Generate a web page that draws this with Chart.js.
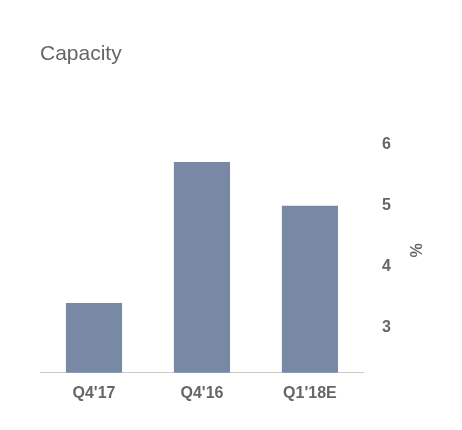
<!DOCTYPE html>
<html><head><meta charset="utf-8">
<script src="https://cdn.jsdelivr.net/npm/chart.js@4/dist/chart.umd.min.js"></script>
<style>body{margin:0;background:#fff;font-family:"Liberation Sans",Arial,sans-serif}
#t{position:absolute;left:40px;top:41px;font-size:21px;color:#666}
#w{position:absolute;left:0;top:0;width:462px;height:430px}</style></head>
<body><div id="w"><canvas id="c" width="462" height="430"></canvas></div><div id="t">Capacity</div>
<script>
const categories=["Q4'17","Q4'16","Q1'18E"];
const values=[3.4,5.72,5.0];
const ticks=[3,4,5,6];
new Chart(document.getElementById('c'),{type:'bar',
data:{labels:categories,datasets:[{data:values,backgroundColor:'#7889a5',barPercentage:0.52,categoryPercentage:1}]},
options:{responsive:false,animation:false,layout:{padding:{left:40,top:128,right:20,bottom:24}},
plugins:{legend:{display:false},tooltip:{enabled:false}},
scales:{x:{grid:{display:false},border:{color:'#ccc'},ticks:{color:'#666',font:{size:16,weight:'bold'}}},
y:{position:'right',min:2.25,max:6.28,grid:{display:false},border:{display:false},
afterBuildTicks:a=>{a.ticks=ticks.map(v=>({value:v}))},
ticks:{color:'#666',padding:10,font:{size:16,weight:'bold'}},
title:{display:true,text:'%',color:'#666',font:{size:16,weight:'bold'},padding:{top:18}}}}}});
</script></body></html>
